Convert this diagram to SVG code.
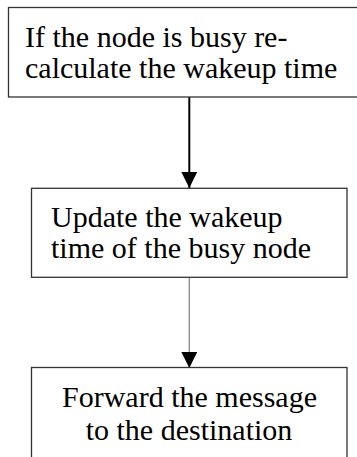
<svg xmlns="http://www.w3.org/2000/svg" width="357" height="457" viewBox="0 0 357 457">
<style>
.box{fill:#fff;stroke:#333;stroke-width:1.3}
.t{font-family:"Liberation Serif","Times New Roman",serif;font-size:30px;fill:#000}
</style>
<defs>
<marker id="ah" markerUnits="userSpaceOnUse" markerWidth="16" markerHeight="16" refX="15" refY="7.5" orient="auto" viewBox="0 0 15 15">
<path d="M0,0 L15,7.5 L0,15 Z" fill="#000"/>
</marker>
</defs>
<rect width="357" height="457" fill="#fff"/>
<g id="connectors">
<line x1="189.3" y1="97" x2="189.3" y2="188" stroke="#000" stroke-width="2" marker-end="url(#ah)"/>
<line x1="189.3" y1="277.5" x2="189.3" y2="368" stroke="#888" stroke-width="1.3" marker-end="url(#ah)"/>
</g>
<g id="node1">
<rect class="box" x="8.5" y="7.5" width="360" height="89.5"/>
<text class="t" x="25" y="46.7">If the node is busy re-</text>
<text class="t" x="25" y="78">calculate the wakeup time</text>
</g>
<g id="node2">
<rect class="box" x="31.5" y="188.3" width="315.5" height="89"/>
<text class="t" x="51" y="226.7">Update the wakeup</text>
<text class="t" x="51" y="257.5">time of the busy node</text>
</g>
<g id="node3">
<rect class="box" x="31.5" y="367.5" width="315.5" height="100"/>
<text class="t" x="189.5" y="406.7" text-anchor="middle">Forward the message</text>
<text class="t" x="189" y="439.5" text-anchor="middle">to the destination</text>
</g>
</svg>
